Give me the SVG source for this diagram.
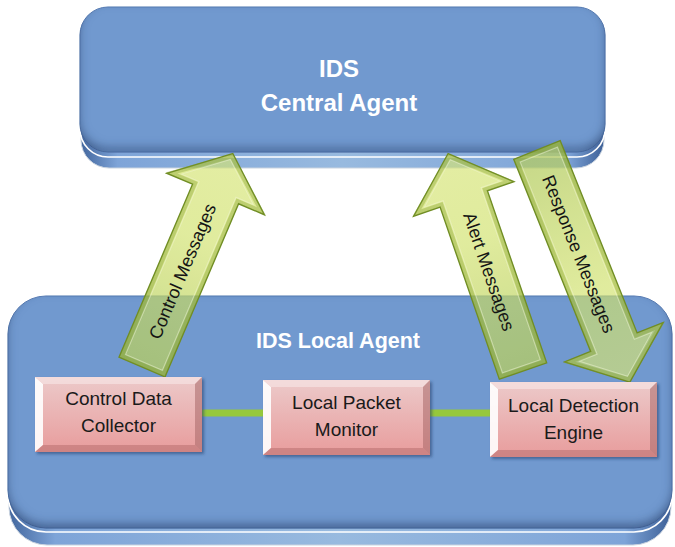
<svg xmlns="http://www.w3.org/2000/svg" xmlns:xlink="http://www.w3.org/1999/xlink" width="675" height="547" viewBox="0 0 675 547">
<defs>
<style>
.title{font-family:"Liberation Sans",Arial,sans-serif;font-weight:bold;fill:#ffffff;text-anchor:middle}
.lbl{font-family:"Liberation Sans",Arial,sans-serif;font-size:19px;fill:#1a1a1a;text-anchor:middle}
.alab{font-family:"Liberation Sans",Arial,sans-serif;font-size:18px;fill:#141414;text-anchor:middle}
.face{fill:#7199cf;stroke:#5b80b8;stroke-width:1}
.wline{fill:none;stroke:#ffffff;stroke-width:1.6}
.slab{fill:url(#slabG);stroke:#c9d3df;stroke-width:1}
.arrow{fill:url(#arrG);stroke:#6f8c24;stroke-width:1.4;stroke-linejoin:miter}
.arrin{fill:#ffffff;fill-opacity:0.1;stroke:#f4f8d8;stroke-opacity:0.5;stroke-width:1}
.arredge{fill:none;stroke:#7d9a2c;stroke-opacity:0.35;stroke-width:4;stroke-linejoin:miter}
.link{stroke:#96c83c;stroke-width:7}
</style>
<linearGradient id="slabG" x1="0" y1="0" x2="1" y2="0">
<stop offset="0" stop-color="#43679e"/>
<stop offset="0.07" stop-color="#7ea4d8"/>
<stop offset="0.5" stop-color="#98badf"/>
<stop offset="0.93" stop-color="#7ea4d8"/>
<stop offset="1" stop-color="#3d6097"/>
</linearGradient>
<linearGradient id="pinkG" x1="0" y1="0" x2="0" y2="1">
<stop offset="0" stop-color="#eccaca"/>
<stop offset="1" stop-color="#e89c9c"/>
</linearGradient>
<linearGradient id="arrG" x1="0" y1="0" x2="1" y2="0">
<stop offset="0" stop-color="#a9c44c" stop-opacity="0.74"/>
<stop offset="0.6" stop-color="#c8dc50" stop-opacity="0.62"/>
<stop offset="1" stop-color="#cfe060" stop-opacity="0.64"/>
</linearGradient>
<filter id="inset" x="-5%" y="-5%" width="110%" height="110%">
<feFlood flood-color="#2a4777" flood-opacity="0.8"/>
<feComposite in2="SourceAlpha" operator="out"/>
<feGaussianBlur stdDeviation="5"/>
<feOffset dx="0" dy="-5" result="sh"/>
<feComposite in="sh" in2="SourceAlpha" operator="in" result="ins"/>
<feMerge><feMergeNode in="SourceGraphic"/><feMergeNode in="ins"/></feMerge>
</filter>
<filter id="drop" x="-10%" y="-10%" width="125%" height="130%">
<feGaussianBlur in="SourceAlpha" stdDeviation="1.5"/>
<feOffset dx="1.5" dy="2" result="o"/>
<feFlood flood-color="#203a66" flood-opacity="0.55"/>
<feComposite in2="o" operator="in"/>
<feMerge><feMergeNode/><feMergeNode in="SourceGraphic"/></feMerge>
</filter>
<g id="pinkbox" filter="url(#drop)">
<rect x="0" y="0" width="167" height="75" fill="url(#pinkG)"/>
<polygon points="0,0 8,7 8,68 0,75" fill="#ffffff" fill-opacity="0.9"/>
<polygon points="0,0 167,0 160,7 8,7" fill="#f7e2e2" fill-opacity="0.7"/>
<polygon points="167,0 167,75 160,68 160,7" fill="#a86868" fill-opacity="0.55"/>
<polygon points="0,75 167,75 160,68 8,68" fill="#b86f6f" fill-opacity="0.55"/>
</g>
</defs>
<rect width="675" height="547" fill="#ffffff"/>

<g id="central-agent">
<rect class="slab" x="81" y="26" width="523" height="142" rx="28"/>
<rect class="wline" x="80" y="11" width="525" height="146" rx="28"/>
<rect class="face" x="80" y="7" width="525" height="145" rx="28" filter="url(#inset)"/>
<text class="title" x="339" y="77" font-size="24">IDS</text>
<text class="title" x="339" y="111" font-size="24">Central Agent</text>
</g>

<g id="local-agent">
<rect class="slab" x="9" y="310" width="662" height="235" rx="38"/>
<rect class="wline" x="8" y="300" width="664" height="232" rx="38"/>
<rect class="face" x="8" y="296" width="664" height="232" rx="38" filter="url(#inset)"/>
<text class="title" x="338" y="348" font-size="21.5">IDS Local Agent</text>
</g>

<g id="connectors">
<line class="link" x1="202" y1="413" x2="263" y2="413"/>
<line class="link" x1="430" y1="413" x2="491" y2="413"/>
<g id="control-messages" transform="translate(142,367) rotate(-66.96)">
<polygon class="arrow" points="0,-25 188,-25 188,-53 232,0 188,53 188,25 0,25"/>
<polygon class="arredge" points="2,-23 190,-23 190,-49 229,0 190,49 190,23 2,23"/>
<polygon class="arrin" points="5,-20 193,-20 193,-39 225.5,0 193,39 193,20 5,20"/>
<text class="alab" x="104" y="0" dy="6">Control Messages</text>
</g>
<g id="alert-messages" transform="translate(523,371) rotate(-109)">
<polygon class="arrow" points="0,-25 182,-25 182,-53 230,0 182,53 182,25 0,25"/>
<polygon class="arredge" points="2,-23 184,-23 184,-49 227,0 184,49 184,23 2,23"/>
<polygon class="arrin" points="5,-20 187,-20 187,-40 223.3,0 187,40 187,20 5,20"/>
<text class="alab" x="105" y="0" dy="6" transform="rotate(180 105 0)">Alert Messages</text>
</g>
<g id="response-messages" transform="translate(537,150) rotate(68.2)">
<polygon class="arrow" points="0,-25 207,-25 207,-53 250,0 207,53 207,25 0,25"/>
<polygon class="arredge" points="2,-23 209,-23 209,-49 247,0 209,49 209,23 2,23"/>
<polygon class="arrin" points="5,-20 212,-20 212,-39 243.6,0 212,39 212,20 5,20"/>
<text class="alab" x="112" y="0" dy="6">Response Messages</text>
</g>
</g>

<g id="control-data-collector">
<use href="#pinkbox" xlink:href="#pinkbox" x="35" y="377"/>
<text class="lbl" x="118.5" y="405">Control Data</text>
<text class="lbl" x="118.5" y="432">Collector</text>
</g>

<g id="local-packet-monitor">
<use href="#pinkbox" xlink:href="#pinkbox" x="263" y="380"/>
<text class="lbl" x="346.5" y="409">Local Packet</text>
<text class="lbl" x="346.5" y="436">Monitor</text>
</g>

<g id="local-detection-engine">
<use href="#pinkbox" xlink:href="#pinkbox" x="490" y="382"/>
<text class="lbl" x="573.5" y="412">Local Detection</text>
<text class="lbl" x="573.5" y="439">Engine</text>
</g>
</svg>
